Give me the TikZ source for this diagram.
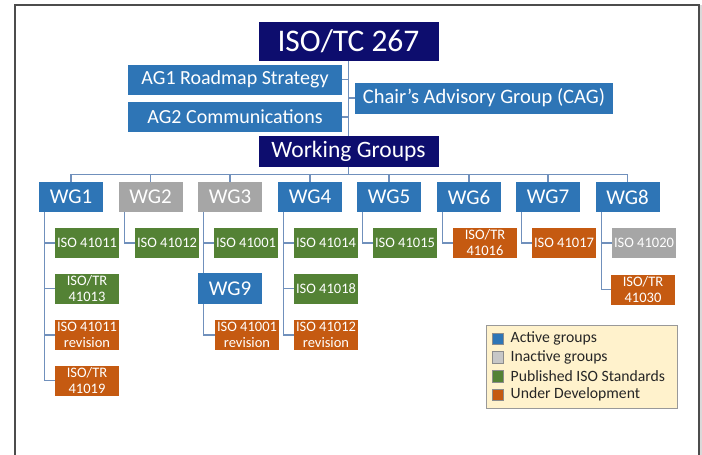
\documentclass[tikz,border=0pt]{standalone}
\usepackage{fontspec}
\setmainfont{Carlito}
\usetikzlibrary{positioning}

\definecolor{tcnavy}{HTML}{0D0D6E}
\definecolor{actblue}{HTML}{2E75B6}
\definecolor{inactgray}{HTML}{A6A6A6}
\definecolor{pubgreen}{HTML}{548235}
\definecolor{devorange}{HTML}{C55A11}
\definecolor{linkblue}{HTML}{7090BC}
\definecolor{legendfill}{HTML}{FFF2CC}

\begin{document}
\begin{tikzpicture}[
    x=1pt, y=-1pt,
    headbox/.style={rectangle, fill=tcnavy, text=white, minimum width=180pt, minimum height=39pt, inner sep=0pt},
    agbox/.style={rectangle, fill=actblue, text=white, minimum height=30pt, inner sep=0pt, font=\fontsize{20}{24}\selectfont},
    wgbox/.style={rectangle, minimum width=64pt, minimum height=30pt, inner sep=0pt, text=white, font=\fontsize{21}{25}\selectfont},
    active/.style={wgbox, fill=actblue},
    inactive/.style={wgbox, fill=inactgray},
    stdbox/.style={rectangle, minimum width=64pt, minimum height=30pt, inner sep=0pt, text=white, align=center, font=\fontsize{14.5}{16}\selectfont},
    published/.style={stdbox, fill=pubgreen},
    underdev/.style={stdbox, fill=devorange},
    dormant/.style={stdbox, fill=inactgray},
    link/.style={draw=linkblue, line width=1.1pt},
    swatch/.style={rectangle, minimum size=11.5pt, inner sep=0pt, draw=black!45, line width=0.4pt},
    legtext/.style={anchor=west, inner sep=0pt, text=black!85, font=\fontsize{15.7}{18}\selectfont}
]

% Page and frame
\useasboundingbox (0,0) rectangle (702,455);
\fill[black!15] (699.5,5) rectangle (702,455);
\draw[black!70, line width=2pt] (14.5,455) -- (14.5,4.5) -- (698.5,4.5) -- (698.5,455);

% Committee and advisory groups
\node[headbox, font=\fontsize{31.5}{36}\selectfont] (tc) at (348.5,41) {ISO/TC 267};
\node[agbox, minimum width=214pt] (ag1) at (235,79.5) {AG1 Roadmap Strategy};
\node[agbox, minimum width=214pt] (ag2) at (235,117) {AG2 Communications};
\node[agbox, minimum width=258pt, minimum height=31pt, font=\fontsize{20.5}{24}\selectfont] (cag) at (484,98) {Chair’s Advisory Group (CAG)};
\node[headbox, minimum height=31pt, font=\fontsize{23.5}{28}\selectfont] (wgs) at (348.5,151.5) {Working Groups};

% Working groups
\node[active] (wg1) at (71,197) {WG1};
\node[inactive] (wg2) at (150.5,197) {WG2};
\node[inactive] (wg3) at (230,197) {WG3};
\node[active] (wg4) at (310,197) {WG4};
\node[active] (wg5) at (389,197) {WG5};
\node[active] (wg6) at (469,197) {WG6};
\node[active] (wg7) at (548,197) {WG7};
\node[active] (wg8) at (627.5,197) {WG8};
\node[active, minimum height=31pt] (wg9) at (230,288.5) {WG9};

% Standards
\node[published] (c11) at (87,243) {ISO 41011};
\node[published] (c12) at (87,288.5) {ISO/TR\\41013};
\node[underdev] (c13) at (87,335) {ISO 41011\\revision};
\node[underdev] (c14) at (87,380.5) {ISO/TR\\41019};
\node[published] (c21) at (167,243) {ISO 41012};
\node[published] (c31) at (246,243) {ISO 41001};
\node[underdev] (c91) at (247,335) {ISO 41001\\revision};
\node[published] (c41) at (326,243) {ISO 41014};
\node[published] (c42) at (326,288.5) {ISO 41018};
\node[underdev] (c43) at (326,335) {ISO 41012\\revision};
\node[published] (c51) at (405,243) {ISO 41015};
\node[underdev] (c61) at (485,243) {ISO/TR\\41016};
\node[underdev] (c71) at (564,243) {ISO 41017};
\node[dormant] (c81) at (644,243) {ISO 41020};
\node[underdev] (c82) at (643,289.5) {ISO/TR\\41030};

% Top connectors
\draw[link] (tc.south) -- (wgs.north);
\draw[link] (ag1.east) -- (ag1.east -| tc.south);
\draw[link] (ag2.east) -- (ag2.east -| tc.south);
\draw[link] (cag.west) -- (cag.west -| tc.south);

% Bus to working groups
\coordinate (bus) at (348.5,174.5);
\draw[link] (wgs.south) -- (bus);
\draw[link] (wg1.north) |- (bus);
\draw[link] (wg2.north) |- (bus);
\draw[link] (wg3.north) |- (bus);
\draw[link] (wg4.north) |- (bus);
\draw[link] (wg5.north) |- (bus);
\draw[link] (wg6.north) |- (bus);
\draw[link] (wg7.north) |- (bus);
\draw[link] (wg8.north) |- (bus);

% Working groups to standards
\draw[link] ([xshift=6pt]wg1.south west) |- (c11.west);
\draw[link] ([xshift=6pt]wg1.south west) |- (c12.west);
\draw[link] ([xshift=6pt]wg1.south west) |- (c13.west);
\draw[link] ([xshift=6pt]wg1.south west) |- (c14.west);
\draw[link] ([xshift=6pt]wg2.south west) |- (c21.west);
\draw[link] ([xshift=6pt]wg3.south west) |- (c31.west);
\draw[link] ([xshift=6pt]wg3.south west) -- ([xshift=6pt]wg9.north west);
\draw[link] ([xshift=6pt]wg9.south west) |- (c91.west);
\draw[link] ([xshift=6pt]wg4.south west) |- (c41.west);
\draw[link] ([xshift=6pt]wg4.south west) |- (c42.west);
\draw[link] ([xshift=6pt]wg4.south west) |- (c43.west);
\draw[link] ([xshift=6pt]wg5.south west) |- (c51.west);
\draw[link] ([xshift=6pt]wg6.south west) |- (c61.west);
\draw[link] ([xshift=6pt]wg7.south west) |- (c71.west);
\draw[link] ([xshift=6pt]wg8.south west) |- (c81.west);
\draw[link] ([xshift=6pt]wg8.south west) |- (c82.west);

% Legend
\node[rectangle, fill=legendfill, draw=black!40, line width=0.8pt, minimum width=191pt, minimum height=83pt] (legend) at (581.5,366.5) {};
\node[swatch, fill=actblue] (sw1) at (497.5,338.5) {};
\node[swatch, fill=black!22] (sw2) at (497.5,357) {};
\node[swatch, fill=pubgreen] (sw3) at (497.5,376) {};
\node[swatch, fill=devorange] (sw4) at (497.5,394.5) {};
\node[legtext] (lt1) at (510.5,338.5) {Active groups};
\node[legtext] (lt2) at (510.5,357) {Inactive groups};
\node[legtext] (lt3) at (510.5,376) {Published ISO Standards};
\node[legtext] (lt4) at (510.5,394.5) {Under Development};

\end{tikzpicture}
\end{document}
